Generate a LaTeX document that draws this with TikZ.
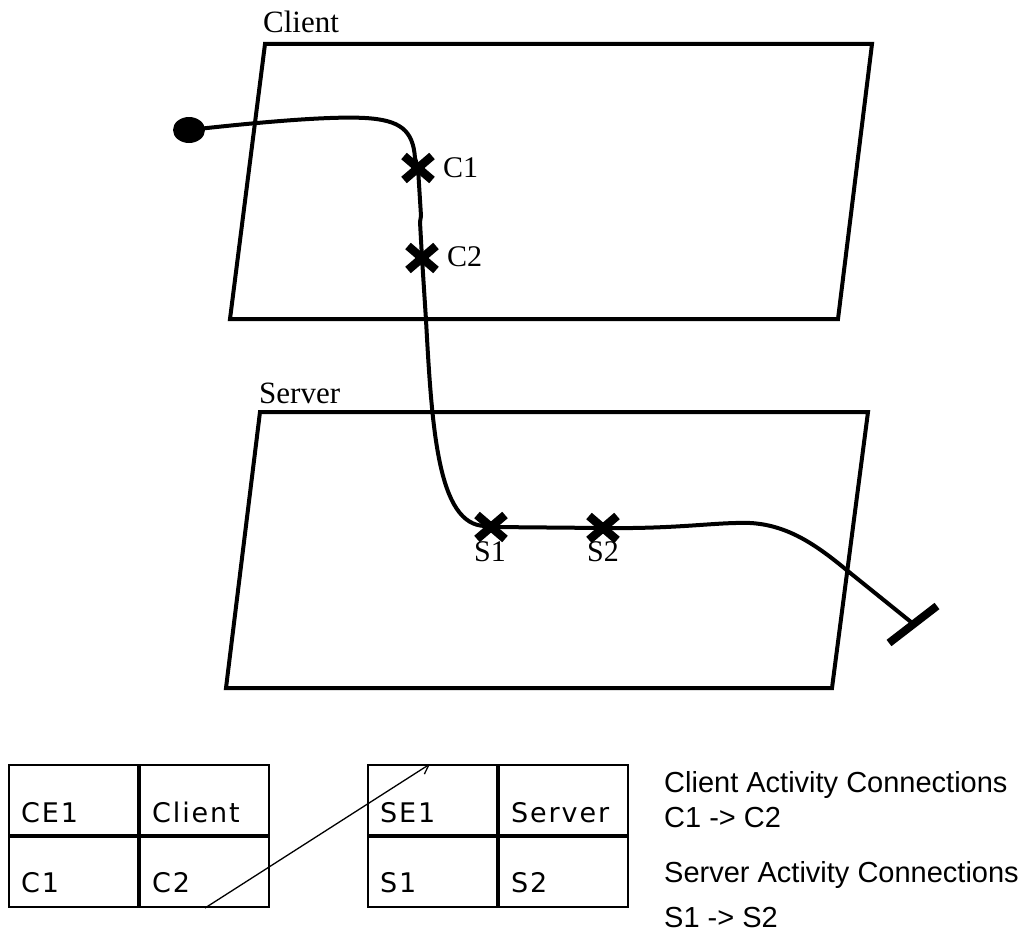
\documentclass[tikz,border=0pt]{standalone}
\usepackage{fontspec}
\setmainfont{Liberation Serif}
\newfontfamily\tabfont[LetterSpace=7]{DejaVu Sans}
\newfontfamily\notefont{Liberation Sans}
\usetikzlibrary{calc,arrows.meta}
\tikzset{
  plane/.style={line width=4pt, line join=miter},
  curve/.style={line width=4pt, line cap=round, line join=round},
  planelabel/.style={anchor=base west, inner sep=0pt, font=\fontsize{31}{36}\selectfont},
  marklabel/.style={anchor=base west, inner sep=0pt, font=\fontsize{30}{34}\selectfont},
  cell/.style={draw, line width=2pt, minimum width=129pt, minimum height=70pt, inner sep=0pt},
  celltext/.style={anchor=base west, inner sep=0pt, font=\tabfont\fontsize{27}{30}\selectfont},
  note/.style={anchor=base west, inner sep=0pt, font=\notefont\fontsize{29}{34}\selectfont},
  xmark/.pic={\draw[line width=8.5pt] (-14,-12) -- (14,12) (-14,12) -- (14,-12);}
}
\begin{document}
\begin{tikzpicture}[x=1pt,y=-1pt]
\useasboundingbox (0,0) rectangle (1026,934);

% planes
\draw[plane] (265,44) -- (872,44) -- (838,319) -- (230,319) -- cycle;
\node[planelabel] (clientlbl) at (263,33) {Client};
\draw[plane] (260,412) -- (868,412) -- (832,688) -- (226,688) -- cycle;
\node[planelabel] (serverlbl) at (259,403) {Server};

% path coordinates
\coordinate (start) at (189,130);
\coordinate (C1) at (418,168);
\coordinate (C2) at (422,258);
\coordinate (S1) at (491,527);
\coordinate (S2) at (603,528);
\coordinate (end) at (911,622);
\coordinate (bar1) at (889,643);
\coordinate (bar2) at (937,606);

\draw[curve] (start) .. controls (260,122) and (330,116) .. (365,118)
  .. controls (400,120) and (413,130) .. (415,158) -- (C1) -- (421,216) -- (420,222)
  -- (C2) -- (426,320) .. controls (432,430) and (438,525) .. (485,526)
  -- (S1) -- (S2) .. controls (680,529) and (715,522) .. (750,523)
  .. controls (790,525) and (820,548) .. (849,572) -- (end);
\fill (start) ellipse [x radius=16, y radius=13];
\draw[line width=8pt] (bar1) -- (bar2);

\pic at (C1) {xmark};
\pic at (C2) {xmark};
\pic at (S1) {xmark};
\pic at (S2) {xmark};
\node[marklabel] (C1lbl) at (443,177) {C1};
\node[marklabel] (C2lbl) at (447,266) {C2};
\node[marklabel] (S1lbl) at (474,561) {S1};
\node[marklabel] (S2lbl) at (587,561) {S2};

% tables
\node[cell, anchor=north west] (ce1) at (8,764) {};
\node[cell, anchor=north west] (clientc) at (ce1.north east) {};
\node[cell, anchor=north west] (c1c) at (ce1.south west) {};
\node[cell, anchor=north west] (c2c) at (c1c.north east) {};
\node[cell, anchor=north west] (se1) at (367,764) {};
\node[cell, anchor=north west] (serverc) at (se1.north east) {};
\node[cell, anchor=north west] (s1c) at (se1.south west) {};
\node[cell, anchor=north west] (s2c) at (s1c.north east) {};

\node[celltext] at ($(ce1.west)+(13,22)$) {CE1};
\node[celltext] at ($(clientc.west)+(13,22)$) {Client};
\node[celltext] at ($(c1c.west)+(13,20)$) {C1};
\node[celltext] at ($(c2c.west)+(13,20)$) {C2};
\node[celltext] at ($(se1.west)+(13,22)$) {SE1};
\node[celltext] at ($(serverc.west)+(13,22)$) {Server};
\node[celltext] at ($(s1c.west)+(13,20)$) {S1};
\node[celltext] at ($(s2c.west)+(13,20)$) {S2};

\coordinate (arrfrom) at ($(c2c.south west)+(66,0)$);
\coordinate (arrto) at ($(se1.north west)+(63,0)$);
\draw[line width=1.3pt, -{Straight Barb[length=9pt,width=11pt,line width=1.3pt]}] (arrfrom) -- (arrto);

% notes
\node[note] (n1) at (664,792) {Client Activity Connections};
\node[note] (n2) at (664,827) {C1 -> C2};
\node[note] (n3) at (664,882) {Server Activity Connections};
\node[note] (n4) at (664,927) {S1 -> S2};
\end{tikzpicture}
\end{document}
